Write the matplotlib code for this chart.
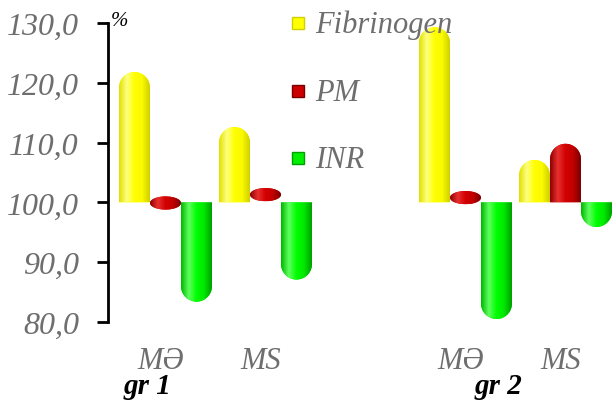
import numpy as np
import matplotlib.pyplot as plt
from matplotlib.patches import Polygon, Rectangle
from matplotlib.colors import LinearSegmentedColormap

# categories (empty slot between the two groups)
categories = ["MƏ", "MS", "", "MƏ", "MS"]
groups = ["gr 1", "gr 2"]
series = ["Fibrinogen", "PM", "INR"]

fibrinogen = [121.8, 112.6, None, 129.3, 107.1]
pm = [98.8, 102.4, None, 101.9, 109.8]
inr = [83.4, 87.1, None, 80.5, 95.9]
values = [fibrinogen, pm, inr]

yticks = [80, 90, 100, 110, 120, 130]
base = 100

colors = ["#FFFF00", "#CC0000", "#00F000"]
shades = [
    ["#E0E000", "#FFFF80", "#FFFF00", "#FAFA00", "#D0D000"],
    ["#900000", "#E83030", "#D40000", "#C00000", "#7A0000"],
    ["#00B800", "#60FF60", "#00FF00", "#00E800", "#00A000"],
]

plt.rcParams["font.family"] = ["Liberation Serif", "DejaVu Serif"]
plt.rcParams["font.style"] = "italic"

W, H = 613, 402
fig = plt.figure(figsize=(W / 100, H / 100), dpi=100)
ax = fig.add_axes([108 / W, 1 - 323 / H, 1 - 108 / W, 299 / H])
xlim = (-0.575, 4.475)
ylim = (80, 130)

px_x = (W - 108) / (xlim[1] - xlim[0])
px_y = 299 / (ylim[1] - ylim[0])
bw = 0.31
ry = (bw * px_x / 2) / px_y  # rounded cap height in data units


def outline(xc, v):
    d = v - base
    s = 1 if d >= 0 else -1
    hx = bw / 2
    if abs(d) > ry:
        t = np.linspace(0, np.pi, 50)
        yc = v - s * ry
        xs = np.concatenate([[xc + hx], xc + hx * np.cos(t), [xc - hx]])
        ys = np.concatenate([[base], yc + s * ry * np.sin(t), [base]])
    else:
        h = 1.1
        t = np.linspace(0, 2 * np.pi, 80)
        yc = v - s * h
        xs = xc + hx * np.cos(t)
        ys = yc + h * np.sin(t)
    return np.column_stack([xs, ys])


grad = np.linspace(0, 1, 64).reshape(1, -1)
for k, vals in enumerate(values):
    cmap = LinearSegmentedColormap.from_list(series[k], shades[k])
    for i, v in enumerate(vals):
        if v is None:
            continue
        xc = i + (k - 1) * bw
        pts = outline(xc, v)
        poly = Polygon(pts, closed=True, facecolor=colors[k], edgecolor="none", zorder=2 + k)
        ax.add_patch(poly)
        im = ax.imshow(grad, cmap=cmap, aspect="auto", interpolation="bilinear",
                       extent=(pts[:, 0].min(), pts[:, 0].max(), pts[:, 1].min(), pts[:, 1].max()),
                       zorder=2 + k)
        im.set_clip_path(poly)

ax.set_xlim(*xlim)
ax.set_ylim(*ylim)
ax.set_xticks([])
ax.set_yticks(yticks)
ax.set_yticklabels([f"{t:.1f}".replace(".", ",") for t in yticks])
ax.tick_params(axis="y", direction="out", length=8, width=2, pad=13,
               labelsize=23, labelcolor="#6E6E6E")
for side in ["top", "right", "bottom"]:
    ax.spines[side].set_visible(False)
ax.spines["left"].set_linewidth(2)
ax.patch.set_alpha(0)

# category labels
for i, c in enumerate(categories):
    if c:
        ax.text(i - 0.05, -46 / 299, c, transform=ax.get_xaxis_transform(),
                ha="center", va="baseline", fontsize=22, color="#6E6E6E")

# group labels
group_x = [147, 498]
for g, gx in zip(groups, group_x):
    fig.text(gx / W, 1 - 394 / H, g, ha="center", va="baseline",
             fontsize=21, fontweight="bold", color="black")

fig.text(119 / W, 1 - 22 / H, "%", ha="center", va="center", fontsize=15, color="black")

# legend
leg_y = [24, 92, 159]
for k, name in enumerate(series):
    y = leg_y[k]
    fig.add_artist(Rectangle((292 / W, 1 - (y + 6) / H), 12 / W, 12 / H,
                             transform=fig.transFigure, facecolor=colors[k],
                             edgecolor=shades[k][-1], linewidth=1))
    fig.text(315 / W, 1 - (y + 9) / H, name, ha="left", va="baseline",
             fontsize=22, color="#6E6E6E")

fig.savefig("out.png", dpi=100)
